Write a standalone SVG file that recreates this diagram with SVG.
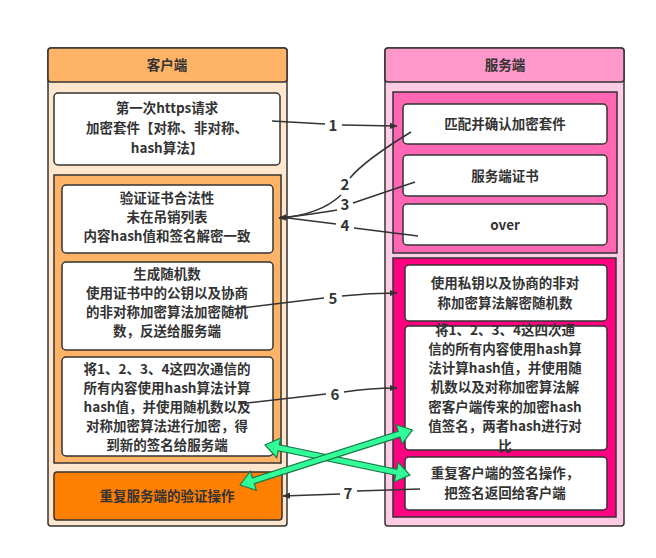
<svg xmlns="http://www.w3.org/2000/svg" width="656" height="558" viewBox="0 0 656 558">
<defs>
<style>
text{font-family:"Noto Sans CJK SC","Liberation Sans",sans-serif;font-weight:bold;font-size:13.5px;fill:#333;text-anchor:middle}
.lane{stroke:#333;stroke-width:1.5}
.box{fill:#fff;stroke:#333;stroke-width:1.5}
.c{fill:none;stroke:#333;stroke-width:1.5}
.lb{font-size:15px}
.g{fill:#33FF99;stroke:#1a7a4a;stroke-width:1.2}
</style>
<marker id="ah" viewBox="0 0 10 10" refX="9" refY="5" markerWidth="8" markerHeight="8" orient="auto" markerUnits="userSpaceOnUse"><path d="M0,1 L10,5 L0,9 Z" fill="#333"/></marker>
</defs>
<g id="client">
<rect x="48" y="48" width="239" height="478" rx="3" fill="#FFE6CC" class="lane"/>
<rect x="48" y="48" width="239" height="34" rx="3" fill="#FFB366" class="lane"/>
<text x="167" y="70" font-size="14">客户端</text>
</g>
<g id="c1"><rect x="54" y="93" width="226" height="72" rx="4" class="box"/>
<text x="167" y="113">第一次https请求</text><text x="167" y="133">加密套件【对称、非对称、</text><text x="167" y="153">hash算法】</text></g>
<g id="cgroup"><rect x="54" y="175" width="227" height="288" fill="#FFB366" stroke="#333" stroke-width="1.5"/></g>
<g id="c2"><rect x="62" y="185" width="211" height="68" rx="4" class="box"/>
<text x="167" y="203">验证证书合法性</text><text x="167" y="222">未在吊销列表</text><text x="167" y="241">内容hash值和签名解密一致</text></g>
<g id="c3"><rect x="62" y="262" width="211" height="88" rx="4" class="box"/>
<text x="167" y="279">生成随机数</text><text x="167" y="298">使用证书中的公钥以及协商</text><text x="167" y="317">的非对称加密算法加密随机</text><text x="167" y="336">数，反送给服务端</text></g>
<g id="c4"><rect x="62" y="357" width="211" height="99" rx="4" class="box"/>
<text x="167" y="374">将1、2、3、4这四次通信的</text><text x="167" y="393">所有内容使用hash算法计算</text><text x="167" y="412">hash值，并使用随机数以及</text><text x="167" y="431">对称加密算法进行加密，得</text><text x="167" y="450">到新的签名给服务端</text></g>
<g id="c5"><rect x="54" y="472" width="228" height="48" rx="3" fill="#FF8000" stroke="#333" stroke-width="1.5"/>
<text x="167" y="501" font-size="14">重复服务端的验证操作</text></g>

<g id="server">
<rect x="385" y="48" width="239" height="478" rx="3" fill="#FFCCE6" class="lane"/>
<rect x="385" y="48" width="239" height="34" rx="3" fill="#FF99CC" class="lane"/>
<text x="505" y="70" font-size="14">服务端</text>
</g>
<g id="sgroup1"><rect x="393" y="92" width="224" height="161" fill="#FF66B3" stroke="#333" stroke-width="1.5"/></g>
<g id="s1"><rect x="403" y="104" width="204" height="40" rx="4" class="box"/><text x="505" y="129">匹配并确认加密套件</text></g>
<g id="s2"><rect x="403" y="155" width="204" height="41" rx="4" class="box"/><text x="505" y="181">服务端证书</text></g>
<g id="s3"><rect x="403" y="204" width="204" height="41" rx="4" class="box"/><text x="505" y="230">over</text></g>
<g id="sgroup2"><rect x="393" y="258" width="223" height="259" fill="#FF0080" stroke="#333" stroke-width="1.5"/></g>
<g id="s4"><rect x="405" y="265" width="202" height="56" rx="4" class="box"/>
<text x="505" y="288">使用私钥以及协商的非对</text><text x="505" y="308">称加密算法解密随机数</text></g>
<g id="s5"><rect x="405" y="326" width="202" height="124" rx="4" class="box"/>
<text x="505" y="335">将1、2、3、4这四次通</text><text x="505" y="354">信的所有内容使用hash算</text><text x="505" y="373">法计算hash值，并使用随</text><text x="505" y="392">机数以及对称加密算法解</text><text x="505" y="412">密客户端传来的加密hash</text><text x="505" y="431">值签名，两者hash进行对</text><text x="505" y="451">比</text></g>
<g id="s6"><rect x="405" y="457" width="202" height="53" rx="4" class="box"/>
<text x="505" y="478">重复客户端的签名操作，</text><text x="505" y="498">把签名返回给客户端</text></g>

<g id="connectors">
<path class="c" d="M272,121 L325,124 M342,125 L397,126" marker-end="url(#ah)"/>
<text class="lb" x="333" y="131">1</text>
<path class="c" d="M411,132 Q365,160 350,178 M341,195 Q320,215 279,218" marker-end="url(#ah)"/>
<text class="lb" x="345" y="190">2</text>
<path class="c" d="M415,182 L353,203 M337,210 Q300,216 279,218"/>
<text class="lb" x="345" y="210">3</text>
<path class="c" d="M418,236 L354,228 M336,224 L280,217"/>
<text class="lb" x="345" y="231">4</text>
<path class="c" d="M234,309 L324,298 M342,296 Q370,293 397,293" marker-end="url(#ah)"/>
<text class="lb" x="333" y="304">5</text>
<path class="c" d="M238,404 L326,394 M344,392 Q370,388 397,388" marker-end="url(#ah)"/>
<text class="lb" x="335" y="400">6</text>
<path class="c" d="M420,489 L357,491 M340,494 L283,496" marker-end="url(#ah)"/>
<text class="lb" x="348" y="499">7</text>
<polygon class="g" transform="translate(265,445) rotate(11.7)" points="0,0 14,-10 14,-3 134,-3 134,-10 148,0 134,10 134,3 14,3 14,10"/>
<polygon class="g" transform="translate(240,485) rotate(-17.7)" points="0,0 14,-10 14,-3 167,-3 167,-10 181,0 167,10 167,3 14,3 14,10"/>
</g>
</svg>
